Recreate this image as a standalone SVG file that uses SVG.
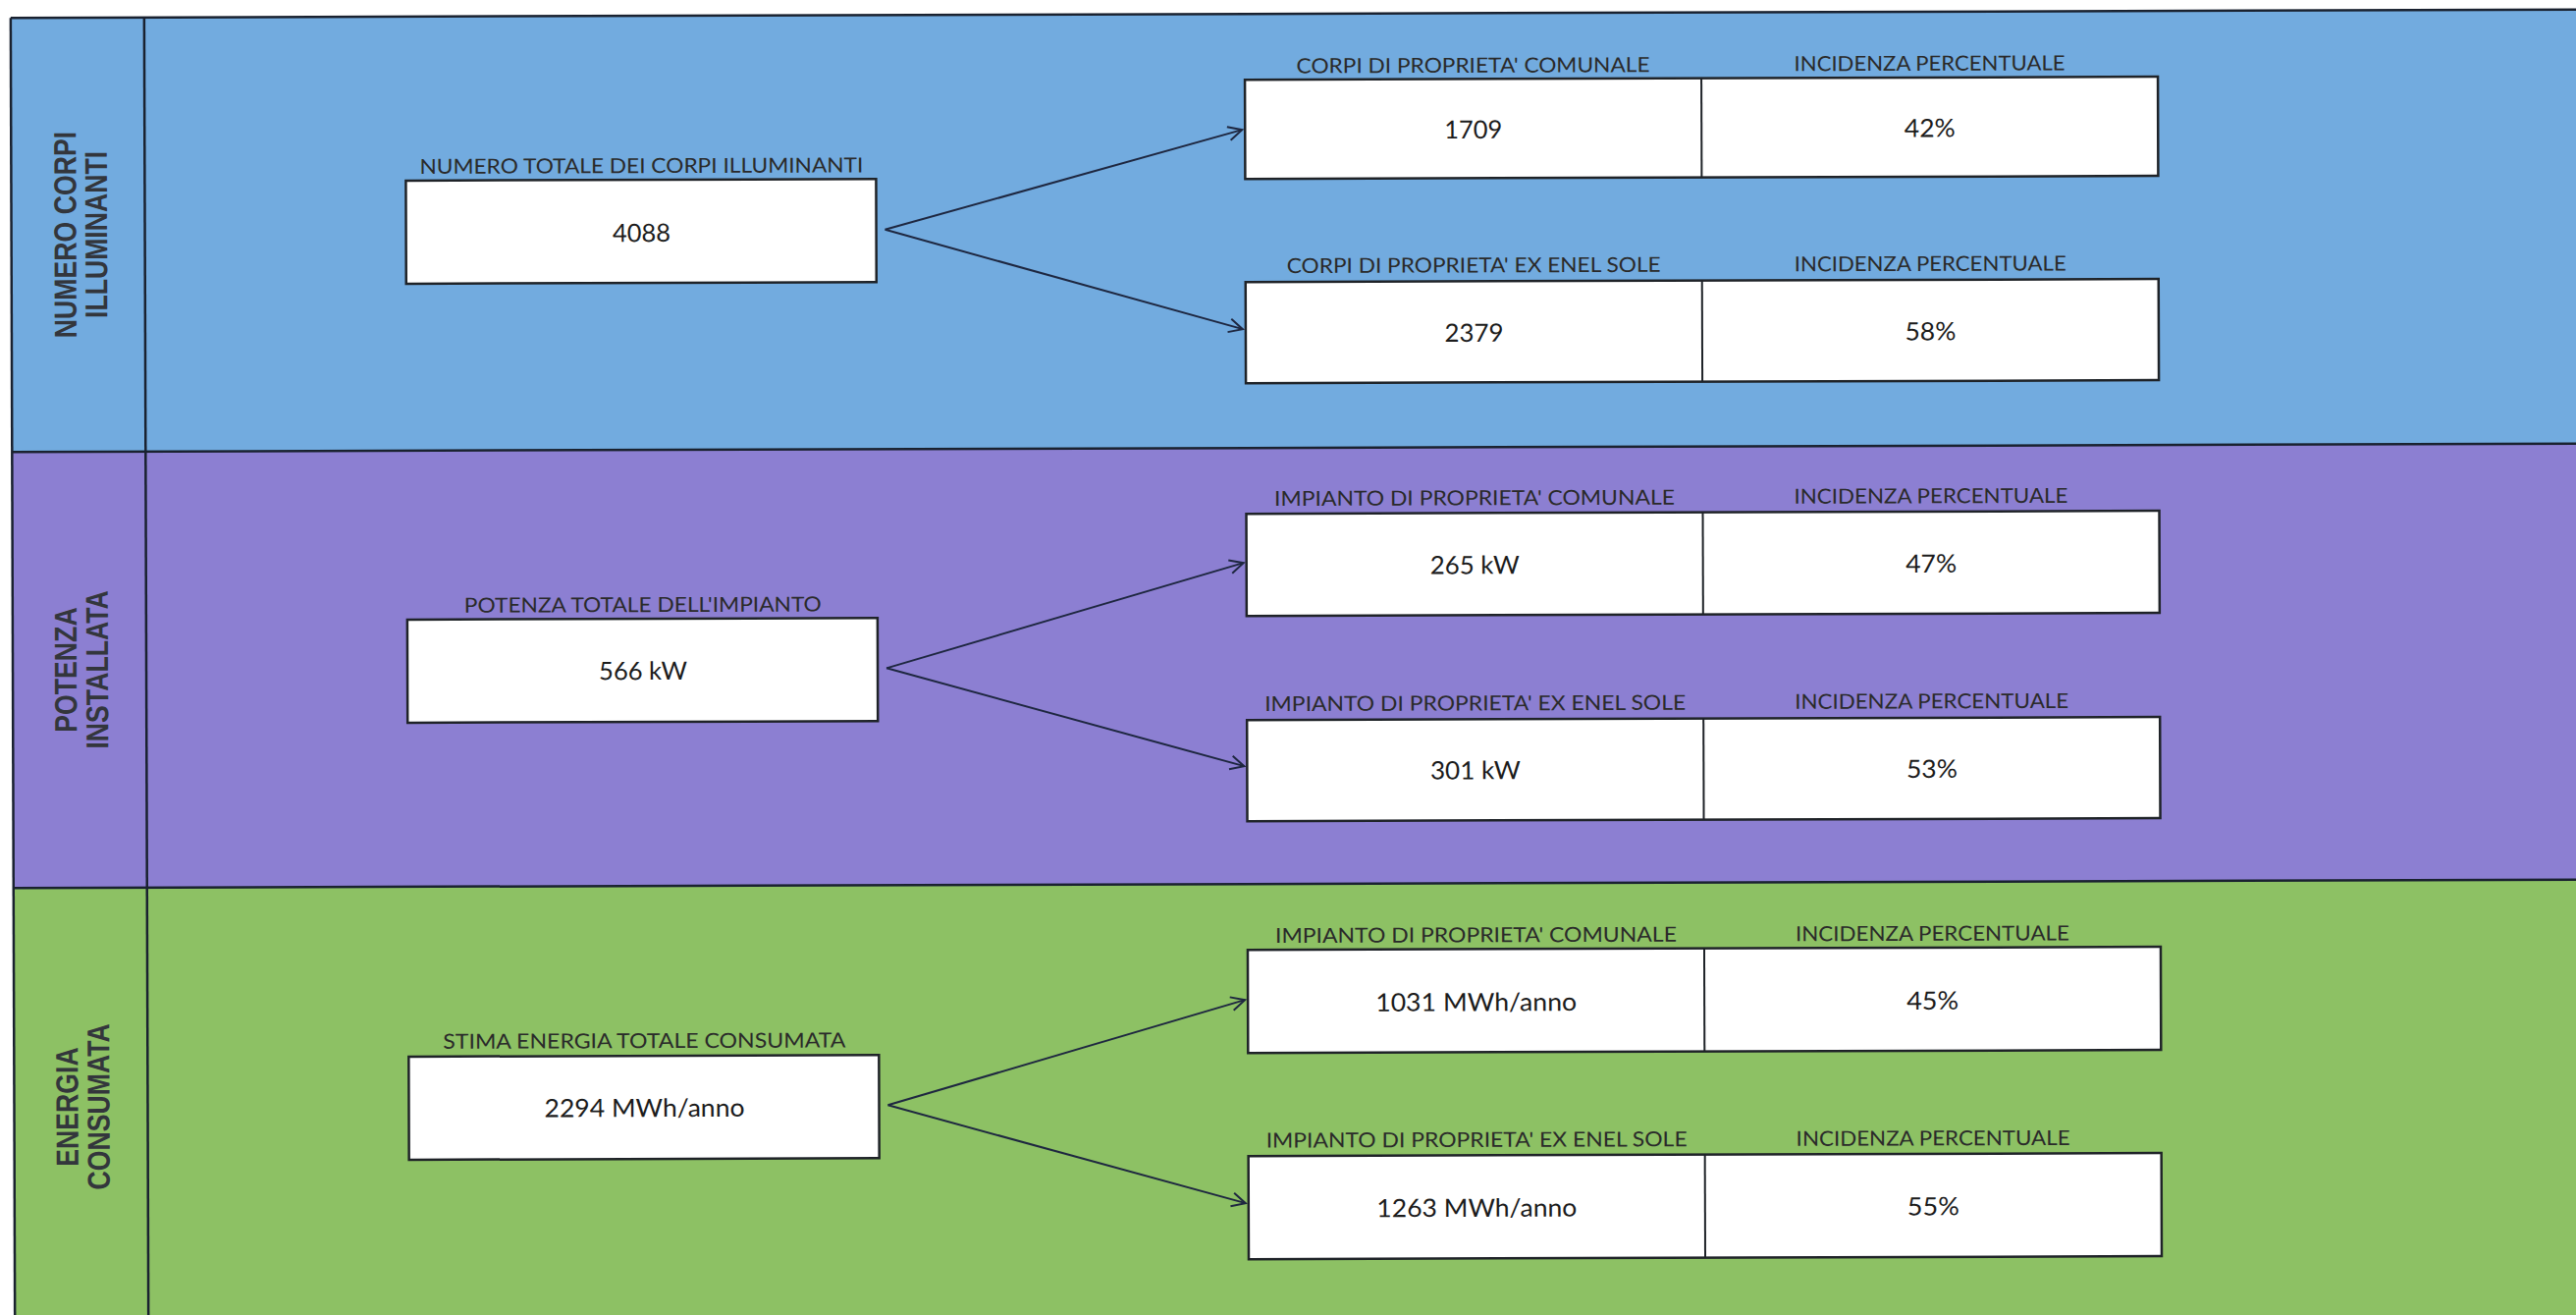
<svg xmlns="http://www.w3.org/2000/svg" width="2624" height="1339" viewBox="0 0 2624 1339">
<defs>
<style>
.lbl{font-family:Lato,"Open Sans","Liberation Sans",sans-serif;font-size:21px;fill:#2a2a2a;text-anchor:middle}
.val{font-family:Lato,"Open Sans","Liberation Sans",sans-serif;font-size:25.5px;fill:#1c1c1c;text-anchor:middle}
.side{font-family:"Liberation Sans",Arial,sans-serif;font-weight:bold;font-size:32px;fill:#33363c;text-anchor:middle}
.box{fill:#ffffff;stroke:#1f2328;stroke-width:2.5}
.cell{stroke:#1f2328;stroke-width:2}
.rule{stroke:#1a2230;stroke-width:2.5;fill:none}
.conn{stroke:#1e2740;stroke-width:2;fill:none;marker-end:url(#arr)}
</style>
<marker id="arr" markerUnits="userSpaceOnUse" markerWidth="18" markerHeight="18" viewBox="0 0 18 18" refX="16" refY="9" orient="auto"><path d="M2,2 L16,9 L2,16" fill="none" stroke="#1e2740" stroke-width="2"/></marker>
</defs>
<rect x="0" y="0" width="2624" height="1339" fill="#ffffff"/>
<g transform="rotate(-0.187 1312 670)">
<g id="bands">
<rect x="13" y="14" width="2700" height="442" fill="#72abdf"/>
<rect x="13" y="456" width="2700" height="444" fill="#8c7fd2"/>
<rect x="13" y="900" width="2700" height="520" fill="#8dc164"/>
<line class="rule" x1="13" y1="14" x2="2713" y2="14"/>
<line class="rule" x1="13" y1="456" x2="2713" y2="456"/>
<line class="rule" x1="13" y1="900" x2="2713" y2="900"/>
<line class="rule" x1="13" y1="14" x2="13" y2="1420"/>
<line class="rule" x1="149" y1="14" x2="149" y2="1420"/>
</g>
<g id="lane-1-label">
<text class="side" transform="translate(79,235) rotate(-90) scale(0.833,1)">NUMERO CORPI</text>
<text class="side" transform="translate(110.5,235) rotate(-90) scale(0.833,1)">ILLUMINANTI</text>
</g>
<g id="lane-2-label">
<text class="side" transform="translate(78,678) rotate(-90) scale(0.833,1)">POTENZA</text>
<text class="side" transform="translate(110,678) rotate(-90) scale(0.833,1)">INSTALLATA</text>
</g>
<g id="lane-3-label">
<text class="side" transform="translate(78,1123) rotate(-90) scale(0.833,1)">ENERGIA</text>
<text class="side" transform="translate(110,1123) rotate(-90) scale(0.833,1)">CONSUMATA</text>
</g>
<g id="connectors">
<line class="conn" x1="903" y1="232.5" x2="1267" y2="132"/>
<line class="conn" x1="903" y1="232.5" x2="1267" y2="335"/>
<line class="conn" x1="903" y1="679" x2="1267" y2="573"/>
<line class="conn" x1="903" y1="679" x2="1267" y2="780"/>
<line class="conn" x1="903" y1="1124" x2="1267" y2="1018"/>
<line class="conn" x1="903" y1="1124" x2="1267" y2="1225"/>
</g>
<g id="total-corpi">
<text class="lbl" x="655" y="174" textLength="452" lengthAdjust="spacingAndGlyphs">NUMERO TOTALE DEI CORPI ILLUMINANTI</text>
<rect class="box" x="415" y="181" width="479" height="105"/>
<text class="val" x="655" y="244" textLength="59" lengthAdjust="spacingAndGlyphs">4088</text>
</g>
<g id="corpi-comunale">
<text class="lbl" x="1502.5" y="74.5" textLength="360" lengthAdjust="spacingAndGlyphs">CORPI DI PROPRIETA' COMUNALE</text>
<text class="lbl" x="1967.5" y="74" textLength="276" lengthAdjust="spacingAndGlyphs">INCIDENZA PERCENTUALE</text>
<rect class="box" x="1270" y="81" width="930" height="101"/>
<line class="cell" x1="1735" y1="81" x2="1735" y2="182"/>
<text class="val" x="1502.5" y="141.5" textLength="59" lengthAdjust="spacingAndGlyphs">1709</text>
<text class="val" x="1967.5" y="141.5" textLength="52" lengthAdjust="spacingAndGlyphs">42%</text>
</g>
<g id="corpi-enel">
<text class="lbl" x="1502.5" y="278" textLength="381" lengthAdjust="spacingAndGlyphs">CORPI DI PROPRIETA' EX ENEL SOLE</text>
<text class="lbl" x="1967.5" y="278" textLength="277" lengthAdjust="spacingAndGlyphs">INCIDENZA PERCENTUALE</text>
<rect class="box" x="1270" y="287" width="930" height="103"/>
<line class="cell" x1="1735" y1="287" x2="1735" y2="390"/>
<text class="val" x="1502.5" y="348.5" textLength="60" lengthAdjust="spacingAndGlyphs">2379</text>
<text class="val" x="1967.5" y="348.5" textLength="52" lengthAdjust="spacingAndGlyphs">58%</text>
</g>
<g id="total-potenza">
<text class="lbl" x="655" y="621" textLength="364" lengthAdjust="spacingAndGlyphs">POTENZA TOTALE DELL'IMPIANTO</text>
<rect class="box" x="415" y="628" width="479" height="105"/>
<text class="val" x="655" y="690" textLength="90" lengthAdjust="spacingAndGlyphs">566 kW</text>
</g>
<g id="potenza-comunale">
<text class="lbl" x="1502.5" y="515" textLength="408" lengthAdjust="spacingAndGlyphs">IMPIANTO DI PROPRIETA' COMUNALE</text>
<text class="lbl" x="1967.5" y="514.5" textLength="279" lengthAdjust="spacingAndGlyphs">INCIDENZA PERCENTUALE</text>
<rect class="box" x="1270" y="523" width="930" height="104"/>
<line class="cell" x1="1735" y1="523" x2="1735" y2="627"/>
<text class="val" x="1502.5" y="585" textLength="91" lengthAdjust="spacingAndGlyphs">265 kW</text>
<text class="val" x="1967.5" y="585" textLength="52" lengthAdjust="spacingAndGlyphs">47%</text>
</g>
<g id="potenza-enel">
<text class="lbl" x="1502.5" y="724" textLength="429" lengthAdjust="spacingAndGlyphs">IMPIANTO DI PROPRIETA' EX ENEL SOLE</text>
<text class="lbl" x="1967.5" y="723.5" textLength="279" lengthAdjust="spacingAndGlyphs">INCIDENZA PERCENTUALE</text>
<rect class="box" x="1270" y="733" width="930" height="103"/>
<line class="cell" x1="1735" y1="733" x2="1735" y2="836"/>
<text class="val" x="1502.5" y="794" textLength="92" lengthAdjust="spacingAndGlyphs">301 kW</text>
<text class="val" x="1967.5" y="794" textLength="52" lengthAdjust="spacingAndGlyphs">53%</text>
</g>
<g id="total-energia">
<text class="lbl" x="655" y="1065" textLength="410" lengthAdjust="spacingAndGlyphs">STIMA ENERGIA TOTALE CONSUMATA</text>
<rect class="box" x="415" y="1073" width="479" height="105"/>
<text class="val" x="655" y="1135" textLength="204" lengthAdjust="spacingAndGlyphs">2294 MWh/anno</text>
</g>
<g id="energia-comunale">
<text class="lbl" x="1502.5" y="960" textLength="409" lengthAdjust="spacingAndGlyphs">IMPIANTO DI PROPRIETA' COMUNALE</text>
<text class="lbl" x="1967.5" y="960" textLength="279" lengthAdjust="spacingAndGlyphs">INCIDENZA PERCENTUALE</text>
<rect class="box" x="1270" y="967" width="930" height="105"/>
<line class="cell" x1="1735" y1="967" x2="1735" y2="1072"/>
<text class="val" x="1502.5" y="1030" textLength="205" lengthAdjust="spacingAndGlyphs">1031 MWh/anno</text>
<text class="val" x="1967.5" y="1030" textLength="53" lengthAdjust="spacingAndGlyphs">45%</text>
</g>
<g id="energia-enel">
<text class="lbl" x="1502.5" y="1168.5" textLength="429" lengthAdjust="spacingAndGlyphs">IMPIANTO DI PROPRIETA' EX ENEL SOLE</text>
<text class="lbl" x="1967.5" y="1168.5" textLength="279" lengthAdjust="spacingAndGlyphs">INCIDENZA PERCENTUALE</text>
<rect class="box" x="1270" y="1177" width="930" height="105"/>
<line class="cell" x1="1735" y1="1177" x2="1735" y2="1282"/>
<text class="val" x="1502.5" y="1239.5" textLength="204" lengthAdjust="spacingAndGlyphs">1263 MWh/anno</text>
<text class="val" x="1967.5" y="1239.5" textLength="53" lengthAdjust="spacingAndGlyphs">55%</text>
</g>
</g>
</svg>
